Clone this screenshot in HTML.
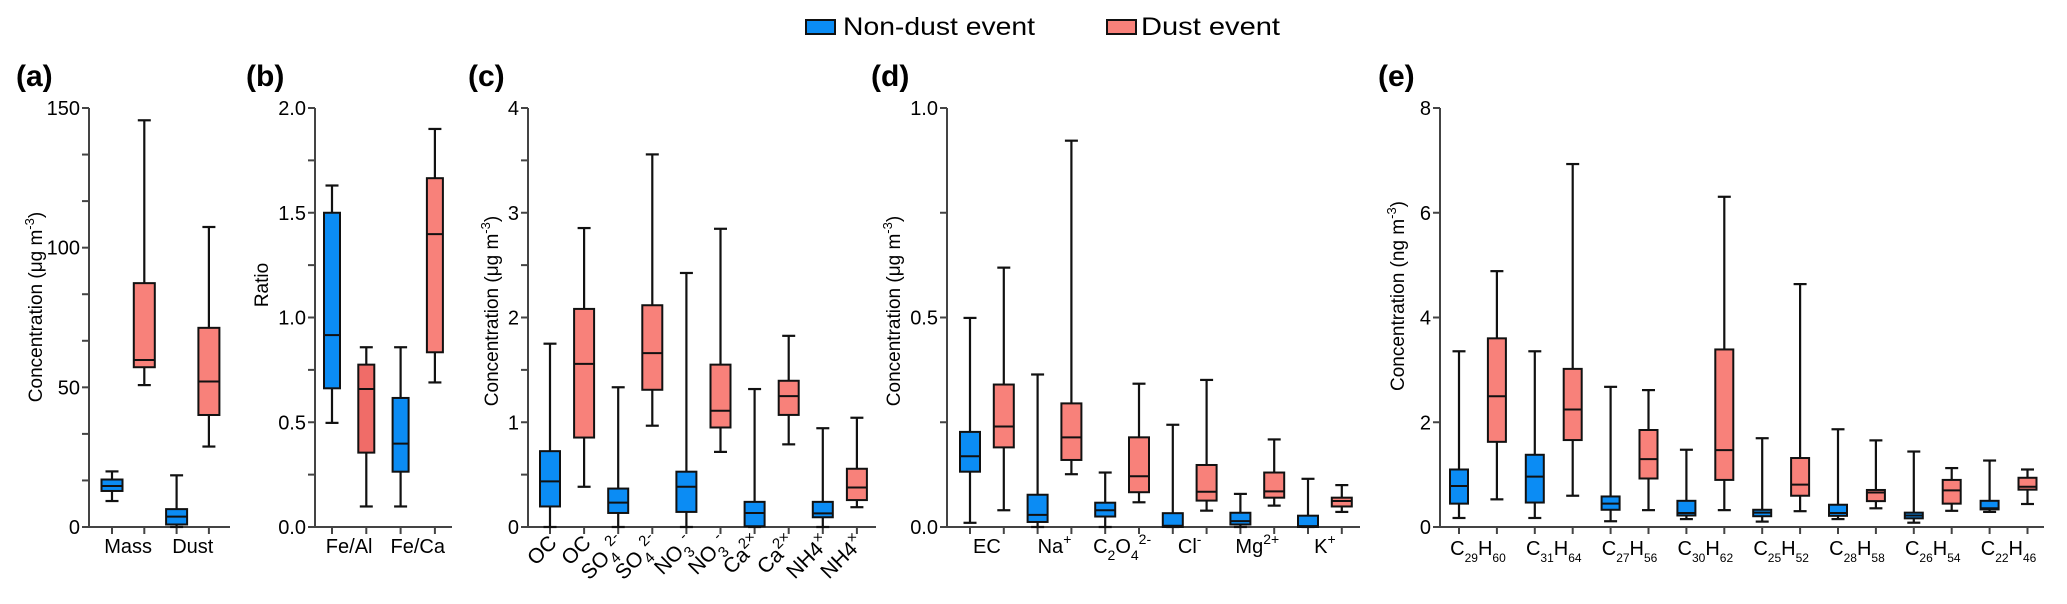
<!DOCTYPE html>
<html><head><meta charset="utf-8"><style>
html,body{margin:0;padding:0;background:#fff;}
svg{display:block;font-family:"Liberation Sans",Arial,sans-serif;}
</style></head><body>
<svg id="chart" width="2067" height="604" viewBox="0 0 2067 604" xmlns="http://www.w3.org/2000/svg">
<g>
  <rect x="806" y="20" width="29" height="14" fill="#0b8cf4" stroke="#111" stroke-width="2"/>
  <text x="843" y="35" font-size="25" textLength="192" lengthAdjust="spacingAndGlyphs">Non-dust event</text>
  <rect x="1107" y="20" width="29" height="14" fill="#f8817a" stroke="#111" stroke-width="2"/>
  <text x="1141" y="35" font-size="25" textLength="139" lengthAdjust="spacingAndGlyphs">Dust event</text>
</g>
</svg>
<script>
// ---- Data: [min, q1, median, q3, max] ----
const aCategories = ['Mass', 'Dust'];
const aNonDust = [[9.3,12.9,14.7,17,19.9],[0,0.9,3.7,6.4,18.5]];
const aDust = [[50.8,57.2,59.8,87.3,145.6],[28.8,40.1,52.1,71.3,107.4]];
const aTicks = [0, 50, 100, 150];

const bCategories = ['Fe/Al', 'Fe/Ca'];
const bNonDust = [[0.497,0.662,0.916,1.50,1.63],[0.098,0.264,0.398,0.616,0.858]];
const bDust = [[0.098,0.355,0.659,0.775,0.858],[0.69,0.834,1.398,1.665,1.90]];
const bTicks = [0, 0.5, 1.0, 1.5, 2.0];
const bTickLabels = ['0.0','0.5','1.0','1.5','2.0'];

const cCategories = ['OC', 'SO<sub>4</sub><sup>2-</sup>', 'NO<sub>3</sub><sup>-</sup>', 'Ca<sup>2×</sup>', 'NH4<sup>×</sup>'];
const cNonDust = [[0,0.196,0.436,0.724,1.75],[0,0.134,0.233,0.367,1.334],[0,0.144,0.384,0.528,2.425],[0,0.007,0.134,0.24,1.317],[0,0.093,0.13,0.24,0.943]];
const cDust = [[0.384,0.854,1.557,2.082,2.854],[0.967,1.31,1.66,2.117,3.557],[0.717,0.95,1.11,1.55,2.847],[0.789,1.07,1.249,1.396,1.825],[0.189,0.257,0.377,0.556,1.043]];
const cTicks = [0, 1, 2, 3, 4];

const dCategories = ['EC', 'Na<sup>+</sup>', 'C<sub>2</sub>O<sub>4</sub><sup>2-</sup>', 'Cl<sup>-</sup>', 'Mg<sup>2+</sup>', 'K<sup>+</sup>'];
const dNonDust = [[0.01,0.132,0.169,0.227,0.499],[0,0.012,0.029,0.077,0.364],[0,0.025,0.04,0.058,0.13],[0,0,0.003,0.033,0.244],[0,0.006,0.014,0.034,0.079],[0,0,0.002,0.027,0.115]];
const dDust = [[0.04,0.19,0.24,0.34,0.619],[0.126,0.16,0.214,0.295,0.922],[0.059,0.083,0.121,0.214,0.342],[0.039,0.063,0.084,0.148,0.351],[0.051,0.07,0.085,0.13,0.209],[0.036,0.049,0.062,0.07,0.1]];
const dTicks = [0, 0.5, 1.0];
const dTickLabels = ['0.0','0.5','1.0'];

const eCategories = ['C<sub>29</sub>H<sub>60</sub>','C<sub>31</sub>H<sub>64</sub>','C<sub>27</sub>H<sub>56</sub>','C<sub>30</sub>H<sub>62</sub>','C<sub>25</sub>H<sub>52</sub>','C<sub>28</sub>H<sub>58</sub>','C<sub>26</sub>H<sub>54</sub>','C<sub>22</sub>H<sub>46</sub>'];
const eNonDust = [[0.172,0.446,0.782,1.098,3.355],[0.172,0.467,0.961,1.379,3.355],[0.11,0.329,0.446,0.583,2.676],[0.151,0.22,0.268,0.5,1.475],[0.103,0.206,0.274,0.329,1.695],[0.151,0.213,0.268,0.425,1.866],[0.082,0.165,0.22,0.274,1.441],[0.288,0.336,0.357,0.5,1.269]];
const eDust = [[0.528,1.626,2.497,3.602,4.885],[0.597,1.66,2.244,3.019,6.93],[0.322,0.926,1.297,1.852,2.614],[0.322,0.899,1.468,3.39,6.305],[0.302,0.597,0.81,1.317,4.638],[0.357,0.494,0.659,0.707,1.654],[0.309,0.446,0.7,0.899,1.125],[0.439,0.713,0.768,0.94,1.098]];
const eTicks = [0, 2, 4, 6, 8];

const NS = 'http://www.w3.org/2000/svg';
const svg = document.getElementById('chart');
const Y0 = 527, YTOP = 108;
const BLUE = '#0b8cf4', RED = '#f8817a';

function mk(tag, attrs, parent) {
  const el = document.createElementNS(NS, tag);
  for (const k in attrs) el.setAttribute(k, attrs[k]);
  (parent || svg).appendChild(el);
  return el;
}
function richText(textEl, markup, fs, subFs, subDy, supDy) {
  const parts = markup.split(/(<sub>.*?<\/sub>|<sup>.*?<\/sup>)/).filter(s => s.length);
  let shift = 0;
  parts.forEach(p => {
    const t = document.createElementNS(NS, 'tspan');
    let target = 0, size = fs, txt = p;
    if (p.startsWith('<sub>')) { txt = p.slice(5, -6); target = subDy; size = subFs; }
    else if (p.startsWith('<sup>')) { txt = p.slice(5, -6); target = -supDy; size = subFs; }
    t.setAttribute('dy', target - shift);
    t.setAttribute('font-size', size);
    shift = target;
    t.textContent = txt;
    textEl.appendChild(t);
  });
}

function panel(cfg) {
  const g = mk('g', {});
  
  
  const yS = v => Y0 - (v / cfg.max) * (Y0 - YTOP);
  const xS = i => cfg.x0 + i * cfg.step;
  // title
  const tt = mk('text', {x: cfg.titleX, y: 86, 'font-size': 30, 'font-weight': 'bold'}, g);
  
  
  tt.textContent = cfg.title;
  // y axis
  const ya = mk('line', {x1: cfg.ax, y1: YTOP, x2: cfg.ax, y2: Y0, stroke: '#444', 'stroke-width': 2}, g);
  
  
  for (let k = 0; k <= cfg.minorN; k++) {
    const yy = YTOP + k * (Y0 - YTOP) / cfg.minorN;
    mk('line', {x1: cfg.ax - 7, y1: yy, x2: cfg.ax, y2: yy, stroke: '#444', 'stroke-width': 2}, g);
  }
  cfg.ticks.forEach((v, k) => {
    const tl = mk('text', {x: cfg.ax - 9, y: yS(v) + 7, 'font-size': 20, 'text-anchor': 'end'}, g);
    
    
    tl.textContent = cfg.tickLabels ? cfg.tickLabels[k] : String(v);
  });
  // y title
  const yt = mk('text', {x: 0, y: 0, 'font-size': 19, 'text-anchor': 'middle', transform: `translate(${cfg.ytX},${cfg.ytY}) rotate(-90)`}, g);
  
  
  richText(yt, cfg.yTitle, 19, 13, 7, 8);
  // x axis
  const xa = mk('line', {x1: cfg.ax, y1: Y0, x2: cfg.axEnd, y2: Y0, stroke: '#444', 'stroke-width': 2}, g);
  
  
  const n = cfg.cats.length * 2;
  for (let i = 0; i < n; i++) {
    mk('line', {x1: xS(i), y1: Y0, x2: xS(i), y2: Y0 + 7, stroke: '#444', 'stroke-width': 2}, g);
  }
  // boxes
  const draw = (st, i, color, nm) => {
    const bg = mk('g', {}, g);
    
    
    const cx = xS(i), hw = cfg.bw / 2, cw = 6.5;
    mk('line', {x1: cx, y1: yS(st[0]), x2: cx, y2: yS(st[4]), stroke: '#111', 'stroke-width': 2.2}, bg);
    mk('line', {x1: cx - cw, y1: yS(st[0]), x2: cx + cw, y2: yS(st[0]), stroke: '#111', 'stroke-width': 2.2}, bg);
    mk('line', {x1: cx - cw, y1: yS(st[4]), x2: cx + cw, y2: yS(st[4]), stroke: '#111', 'stroke-width': 2.2}, bg);
    mk('rect', {x: cx - hw, y: yS(st[3]), width: cfg.bw, height: Math.max(1, yS(st[1]) - yS(st[3])), fill: color, stroke: '#111', 'stroke-width': 2}, bg);
    mk('line', {x1: cx - hw, y1: yS(st[2]), x2: cx + hw, y2: yS(st[2]), stroke: '#111', 'stroke-width': 2}, bg);
  };
  cfg.cats.forEach((c, j) => {
    draw(cfg.nd[j], 2 * j, BLUE, 'box-non-dust');
    draw(cfg.du[j], 2 * j + 1, cfg.redAlt && j === 0 ? '#f06c68' : RED, 'box-dust');
    if (cfg.rotated) {
      for (let q = 0; q < 2; q++) {
        const px = xS(2 * j + q) + 8, py = 544;
        const tl = mk('text', {x: 0, y: 0, 'font-size': 21, 'text-anchor': 'end', transform: `translate(${px},${py}) rotate(-45)`}, g);
        
        
        richText(tl, c, 21, 15, 7, 9);
      }
    } else {
      const px = (xS(2 * j) + xS(2 * j + 1)) / 2;
      const tl = mk('text', {x: px, y: cfg.labY, 'font-size': cfg.labFs, 'text-anchor': 'middle'}, g);
      
      
      richText(tl, c, cfg.labFs, cfg.subFs, cfg.subDy, 9);
    }
  });
}

const CONC = 'Concentration (μg m<sup>-3</sup>)';
panel({name:'panel-a', title:'(a)', titleX:16, max:150, ticks:aTicks, minorN:9, ax:89, axEnd:230, x0:112, step:32.3, bw:21,
  cats:aCategories, nd:aNonDust, du:aDust, ytX:42, ytY:307, yTitle:CONC, labY:553, labFs:20, subFs:13, subDy:7});
panel({name:'panel-b', title:'(b)', titleX:246, max:2, ticks:bTicks, tickLabels:bTickLabels, minorN:8, ax:315, axEnd:452, x0:332, step:34.3, bw:16, redAlt:true,
  cats:bCategories, nd:bNonDust, du:bDust, ytX:268, ytY:285, yTitle:'Ratio', labY:553, labFs:20, subFs:13, subDy:7});
panel({name:'panel-c', title:'(c)', titleX:468, max:4, ticks:cTicks, minorN:8, ax:528, axEnd:876, x0:550, step:34.1, bw:20, rotated:true,
  cats:cCategories, nd:cNonDust, du:cDust, ytX:498, ytY:311, yTitle:CONC});
panel({name:'panel-d', title:'(d)', titleX:871, max:1, ticks:dTicks, tickLabels:dTickLabels, minorN:4, ax:947, axEnd:1360, x0:970, step:33.8, bw:20,
  cats:dCategories, nd:dNonDust, du:dDust, ytX:900, ytY:311, yTitle:CONC, labY:553, labFs:20, subFs:14, subDy:7});
panel({name:'panel-e', title:'(e)', titleX:1378, max:8, ticks:eTicks, minorN:4, ax:1440, axEnd:2044, x0:1459, step:37.9, bw:18,
  cats:eCategories, nd:eNonDust, du:eDust, ytX:1404, ytY:296, yTitle:'Concentration (ng m<sup>-3</sup>)', labY:555, labFs:20, subFs:12, subDy:7});
</script>
</body></html>
